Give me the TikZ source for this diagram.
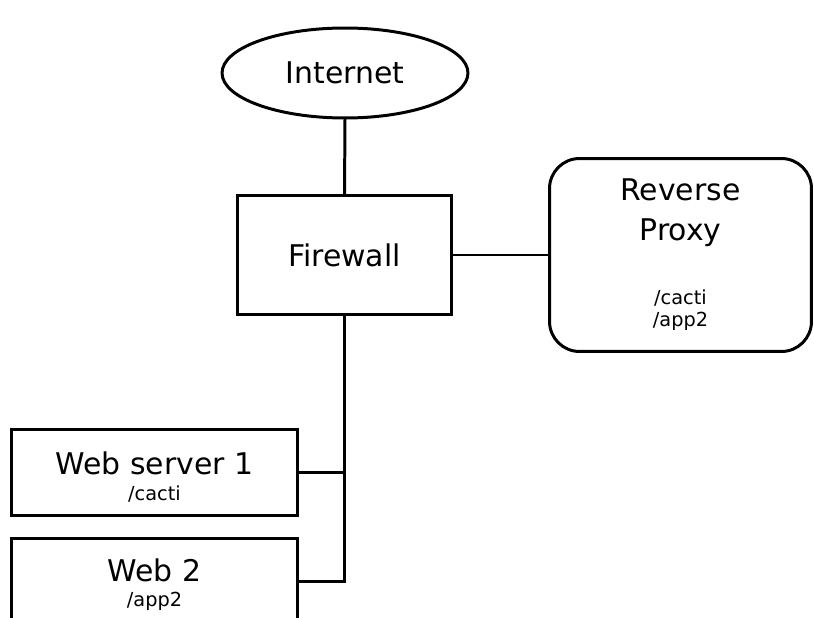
\documentclass[tikz,border=0pt]{standalone}
\usepackage{fontspec}
\setmainfont{DejaVu Sans}
\usetikzlibrary{shapes.geometric}

\tikzset{
  net/.style={draw, line width=1.7pt, outer sep=0pt, inner sep=0pt},
  host/.style={net, rectangle},
  title/.style={font=\fontsize{17}{22.8}\selectfont, align=center, inner sep=0pt},
  route/.style={font=\fontsize{11}{12.5}\selectfont, align=center, inner sep=0pt},
  link/.style={line width=1.7pt}
}

\begin{document}
\begin{tikzpicture}[x=0.02cm, y=-0.02cm]
  \clip (0,0) rectangle (814,618);

  % network nodes
  \node [net, ellipse, minimum width=4.92cm, minimum height=1.8cm, title] (internet) at (345,73) {Internet};
  \node [host, minimum width=4.28cm, minimum height=2.38cm, title] (firewall) at (344.5,255) {Firewall};
  \node [host, rounded corners=0.6cm, minimum width=5.24cm, minimum height=3.86cm] (proxy) at (680.5,255) {};
  \node [host, minimum width=5.72cm, minimum height=1.72cm] (web1) at (154.5,472.5) {};
  \node [host, minimum width=5.72cm, minimum height=1.72cm] (web2) at (154.5,581.5) {};

  % texts inside the boxes
  \node [title] (proxytitle) at (680.5,213) {Reverse\\Proxy};
  \node [route] (proxyroutes) at (680.5,310) {/cacti\\/app2};
  \node [title] (web1title) at (154.5,463) {Web server 1};
  \node [route] (web1route) at (154.5,494) {/cacti};
  \node [title] (web2title) at (154.5,570) {Web 2};
  \node [route] (web2route) at (154.5,601) {/app2};

  % links
  \draw [link] (internet.south) -- (firewall.north);
  \draw [link] (firewall.east) -- (proxy.west);
  \draw [link] (firewall.south) |- (web2.east);
  \draw [link] (web1.east) -- (web1.east -| firewall.south);
\end{tikzpicture}
\end{document}
